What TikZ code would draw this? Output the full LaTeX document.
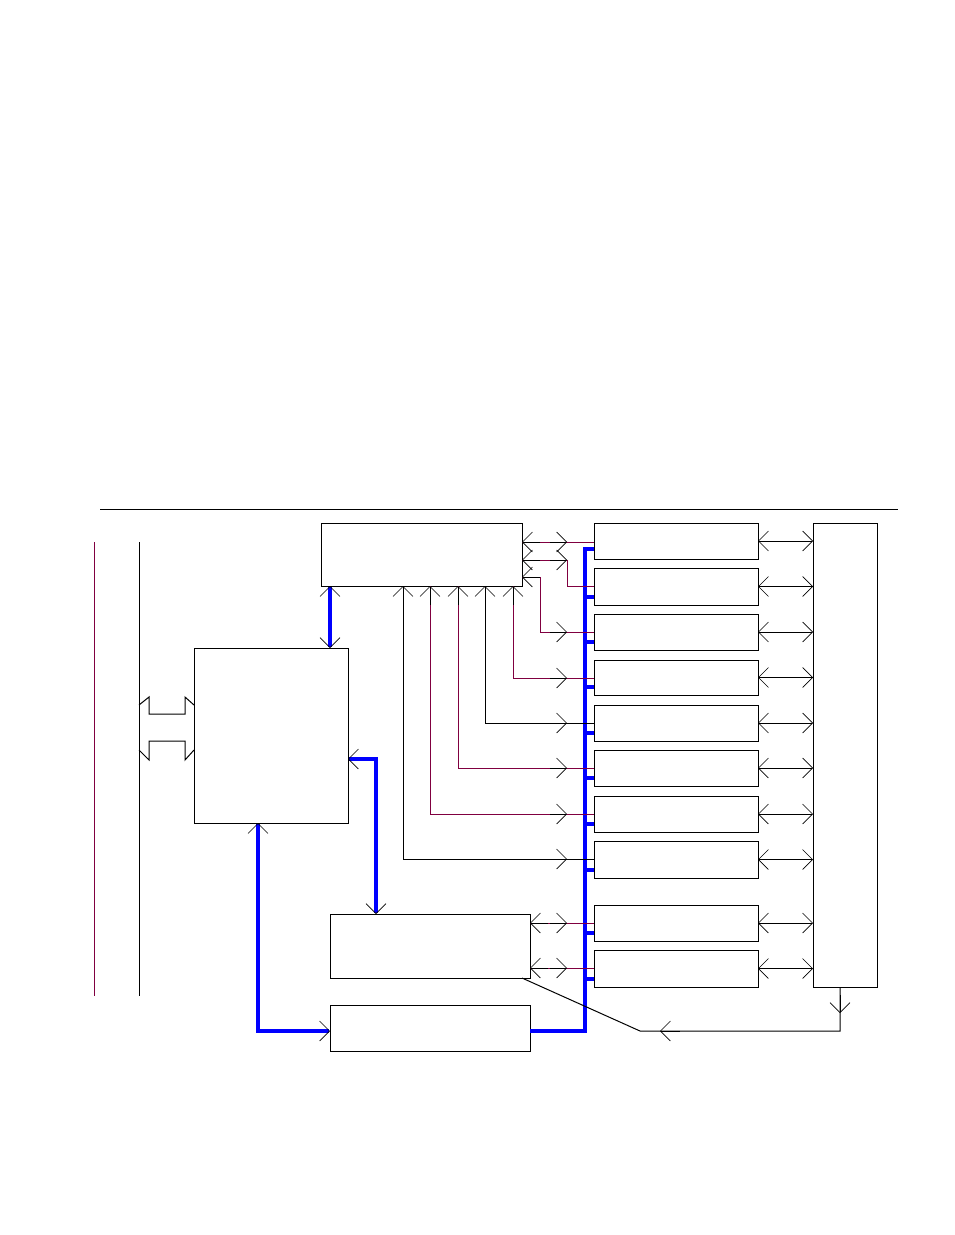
\documentclass[tikz,border=0pt]{standalone}
\usetikzlibrary{arrows.meta}
\begin{document}
\begin{tikzpicture}[x=0.75pt,y=-0.75pt,line width=0.75pt,
  tip/.tip={Straight Barb[length=7.5pt,width=15pt,line width=0.5pt]},
  btip/.tip={Straight Barb[length=7.5pt,width=15pt,line width=0.5pt,color=black]},
  ar/.style={-tip}, dar/.style={tip-tip},
  mar/.style={draw={rgb,255:red,128;green,0;blue,64}},
  bus/.style={draw={rgb,255:red,0;green,0;blue,255},line width=2.5pt},
  box/.style={draw,line width=0.75pt}]
\useasboundingbox (0,0) rectangle (954,1235);
\draw (100,509) -- (898,509);
\draw[mar] (94,542) -- (94,996);
\draw (139,542) -- (139,996);
% broad arrows
\draw (139,705) -- (149,697) -- (149,714) -- (185,714) -- (185,697) -- (194,705);
\draw (139,750) -- (149,760) -- (149,741) -- (185,741) -- (185,760) -- (194,750);
% boxes
\node[box,minimum width=154*0.75pt,minimum height=175*0.75pt,anchor=north west,inner sep=0] (cpu) at (194,648) {};
\node[box,minimum width=201*0.75pt,minimum height=63*0.75pt,anchor=north west,inner sep=0] (top) at (321,523) {};
\node[box,minimum width=64*0.75pt,minimum height=464*0.75pt,anchor=north west,inner sep=0] (big) at (813,523) {};
\node[box,minimum width=200*0.75pt,minimum height=64*0.75pt,anchor=north west,inner sep=0] (ba) at (330,914) {};
\node[box,minimum width=200*0.75pt,minimum height=46*0.75pt,anchor=north west,inner sep=0] (bb) at (330,1005) {};
% blue bus
\draw[bus] (594,549) -- (585,549) -- (585,1031) -- (530,1031);
\foreach \t/\b [count=\i] in {523/559,568/605,614/650,660/695,705/741,750/786,796/832,841/878,905/941,950/987}{
  \node[box,minimum width=164*0.75pt,minimum height=(\b-\t)*0.75pt,anchor=north west,inner sep=0] (r\i) at (594,\t) {};
  \pgfmathsetmacro\m{(\t+\b)/2}
  \draw[dar] (758,\m) -- (813,\m);
  \ifnum\i>1 \draw[bus] (585,\b-8) -- (594,\b-8); \fi
}
\draw[bus,btip-btip] (330,586) -- (330,648);
\draw[bus,btip-btip] (348,759) -- (376,759) -- (376,914);
\draw[bus,btip-btip] (258,823) -- (258,1031) -- (330,1031);
% top box right side links
\draw[mar] (522,542) -- (594,542);
\draw[ar] (540,542) -- (522,542); \draw[ar] (550,542) -- (567,542);
\draw[mar] (522,560) -- (567,560) -- (567,586) -- (594,586);
\draw[ar] (540,560) -- (522,560); \draw[ar] (550,560) -- (567,560);
\draw[mar] (522,577) -- (540,577) -- (540,632) -- (594,632);
\draw[ar] (540,577) -- (522,577); \draw[ar] (550,632) -- (567,632);
% bottom links
\foreach \x/\y/\c in {403/859/black,430/814/mar,458/768/mar,485/723/black,513/678/mar}{
  \draw[\c] (\x,586) -- (\x,\y) -- (594,\y);
  \draw[ar] (\x,605) -- (\x,586);
  \draw[ar] (550,\y) -- (567,\y);
}
\draw[mar] (530,923) -- (594,923); \draw[ar] (548,923) -- (530,923); \draw[ar] (550,923) -- (567,923);
\draw[mar] (530,968) -- (594,968); \draw[ar] (548,968) -- (530,968); \draw[ar] (550,968) -- (567,968);
% return path
\draw (522,978) -- (640,1031) -- (840,1031) -- (840,987);
\draw[ar] (680,1031) -- (660,1031);
\draw[ar] (840,995) -- (840,1013);
\end{tikzpicture}
\end{document}
